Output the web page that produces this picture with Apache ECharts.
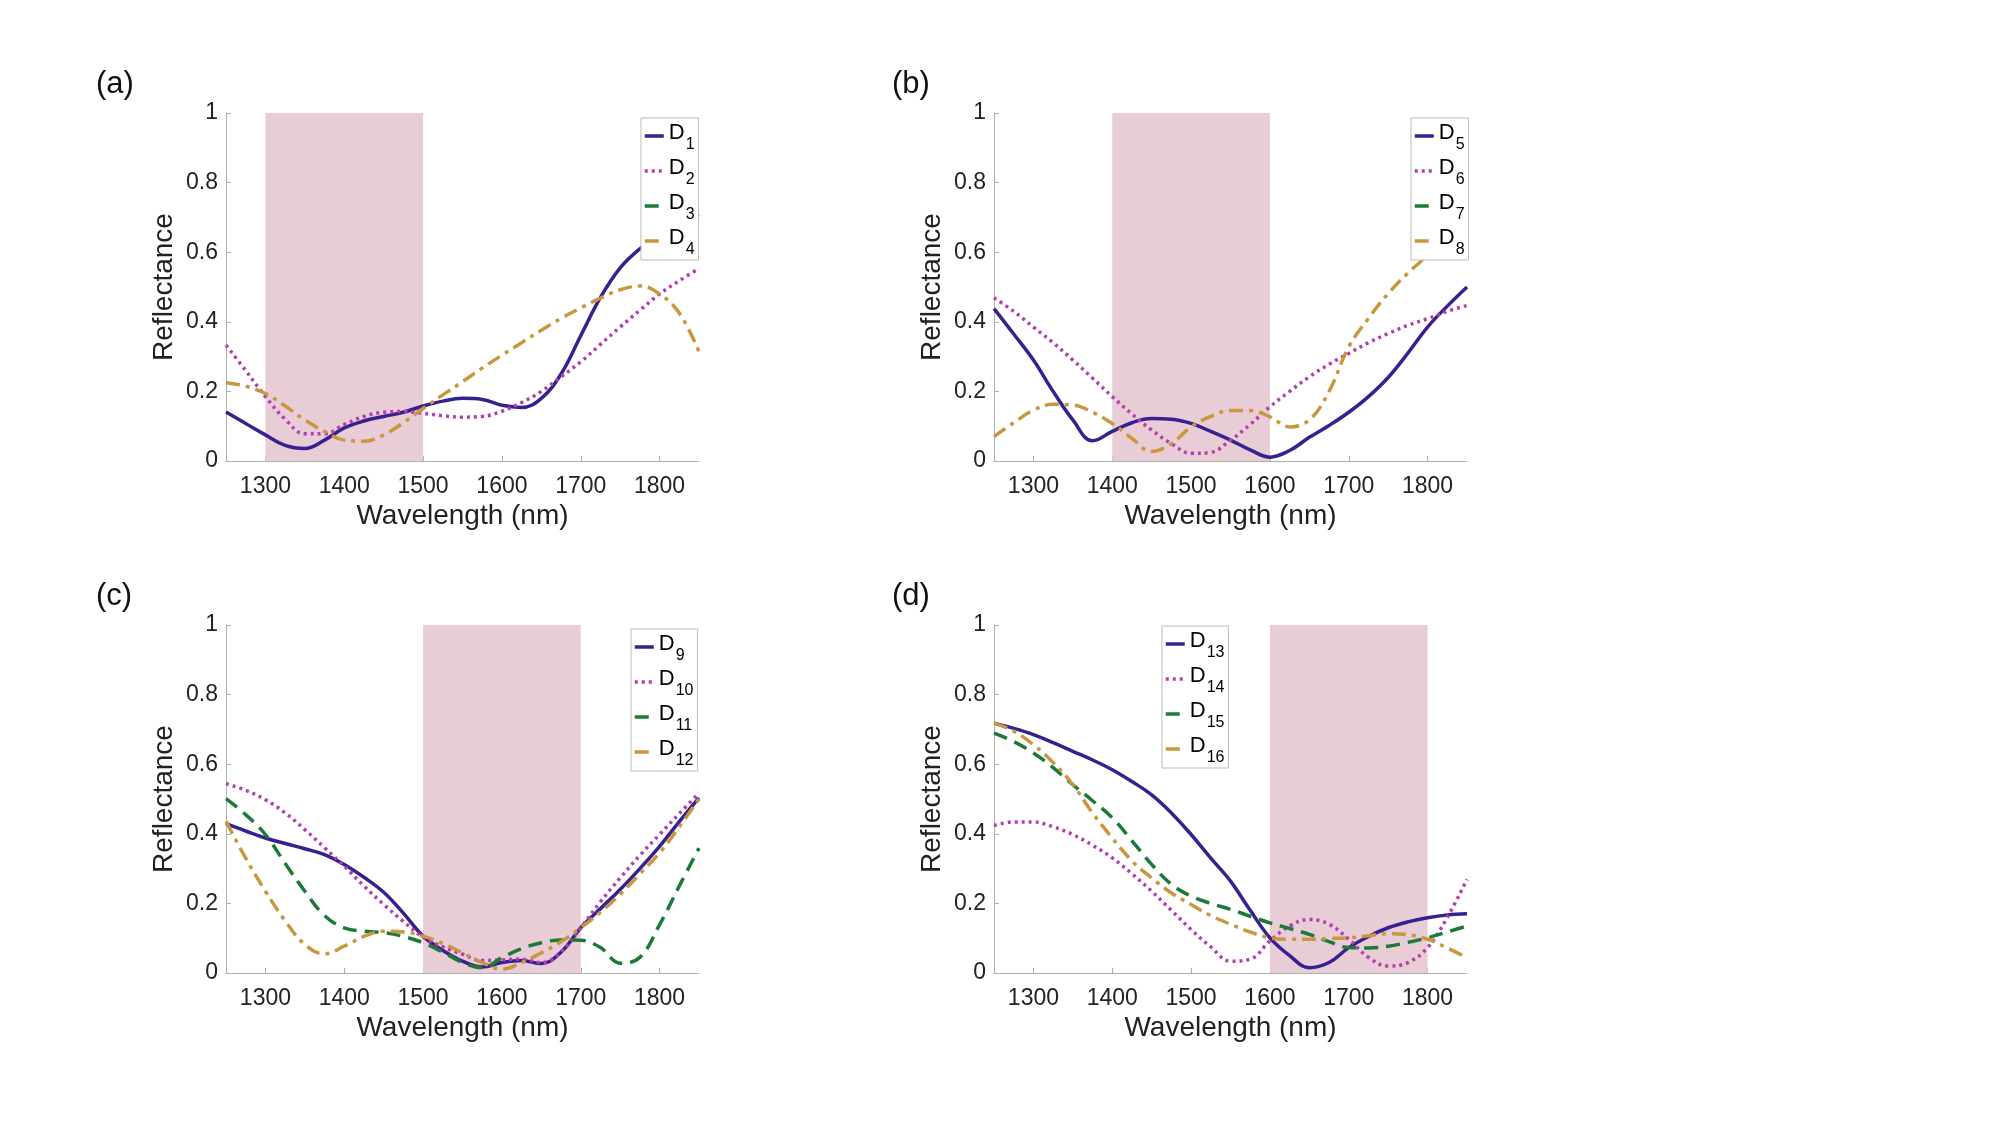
<!DOCTYPE html>
<html>
<head>
<meta charset="utf-8">
<script src="https://cdn.jsdelivr.net/npm/echarts@6/dist/echarts.min.js"></script>
<style>
    html, body { margin: 0; padding: 0; background: #fff; }
    #chart { width: 2000px; height: 1125px; }
</style>
</head>
<body>
<div id="chart"></div>
<script>
// wavelength grid (nm), every 25 nm
const wavelength = [1250, 1275, 1300, 1325, 1350, 1375, 1400, 1425, 1450, 1475, 1500, 1525, 1550,
    1575, 1600, 1625, 1650, 1675, 1700, 1725, 1750, 1775, 1800, 1825, 1850];
const xTicks = [1300, 1400, 1500, 1600, 1700, 1800];

// (a)  -- D3 is listed in the legend but no curve is visible for it
const d1 = [0.141, 0.108, 0.075, 0.045, 0.036, 0.060, 0.095, 0.115, 0.128, 0.140, 0.158, 0.172, 0.180,
    0.177, 0.160, 0.154, 0.180, 0.250, 0.360, 0.470, 0.555, 0.610, 0.650, 0.685, 0.708];
const d2 = [0.333, 0.260, 0.185, 0.120, 0.078, 0.078, 0.105, 0.128, 0.140, 0.142, 0.137, 0.130, 0.126,
    0.128, 0.143, 0.168, 0.200, 0.242, 0.285, 0.335, 0.385, 0.433, 0.480, 0.518, 0.553];
const d3 = [];
const d4 = [0.225, 0.215, 0.194, 0.158, 0.118, 0.085, 0.060, 0.057, 0.075, 0.110, 0.151, 0.190, 0.228,
    0.267, 0.304, 0.340, 0.376, 0.410, 0.440, 0.468, 0.492, 0.503, 0.480, 0.425, 0.314];
// (b)  -- same for D7
const d5 = [0.438, 0.365, 0.290, 0.200, 0.118, 0.058, 0.085, 0.110, 0.122, 0.120, 0.108, 0.085, 0.060,
    0.032, 0.011, 0.030, 0.068, 0.102, 0.140, 0.185, 0.240, 0.310, 0.385, 0.445, 0.500];
const d6 = [0.469, 0.430, 0.385, 0.340, 0.290, 0.238, 0.185, 0.135, 0.089, 0.050, 0.022, 0.025, 0.060,
    0.105, 0.156, 0.200, 0.242, 0.278, 0.309, 0.340, 0.366, 0.390, 0.409, 0.430, 0.447];
const d7 = [];
const d8 = [0.070, 0.110, 0.146, 0.163, 0.161, 0.140, 0.108, 0.065, 0.027, 0.050, 0.098, 0.128, 0.145,
    0.145, 0.127, 0.098, 0.118, 0.200, 0.328, 0.410, 0.481, 0.540, 0.590, 0.640, 0.686];
// (c)
const d9 = [0.429, 0.408, 0.388, 0.372, 0.357, 0.340, 0.312, 0.275, 0.232, 0.172, 0.106, 0.065, 0.034,
    0.017, 0.030, 0.036, 0.027, 0.060, 0.130, 0.185, 0.240, 0.300, 0.364, 0.435, 0.503];
const d10 = [0.544, 0.525, 0.498, 0.460, 0.412, 0.360, 0.307, 0.250, 0.197, 0.148, 0.103, 0.075, 0.054,
    0.036, 0.038, 0.040, 0.030, 0.060, 0.130, 0.205, 0.273, 0.338, 0.398, 0.458, 0.517];
const d11 = [0.501, 0.455, 0.398, 0.315, 0.235, 0.165, 0.130, 0.120, 0.116, 0.105, 0.087, 0.060, 0.030,
    0.015, 0.044, 0.070, 0.087, 0.095, 0.094, 0.073, 0.028, 0.045, 0.139, 0.250, 0.359];
const d12 = [0.436, 0.330, 0.235, 0.150, 0.082, 0.055, 0.077, 0.105, 0.120, 0.118, 0.106, 0.085, 0.058,
    0.030, 0.011, 0.030, 0.058, 0.090, 0.130, 0.175, 0.226, 0.285, 0.345, 0.420, 0.500];
// (d)
const d13 = [0.718, 0.703, 0.685, 0.662, 0.637, 0.612, 0.584, 0.550, 0.512, 0.460, 0.398, 0.330, 0.264,
    0.180, 0.101, 0.050, 0.015, 0.030, 0.073, 0.105, 0.130, 0.147, 0.159, 0.167, 0.170];
const d14 = [0.424, 0.434, 0.434, 0.420, 0.398, 0.367, 0.331, 0.285, 0.235, 0.180, 0.125, 0.075, 0.034,
    0.040, 0.092, 0.135, 0.154, 0.140, 0.097, 0.045, 0.020, 0.030, 0.073, 0.160, 0.269];
const d15 = [0.689, 0.665, 0.632, 0.590, 0.541, 0.495, 0.446, 0.380, 0.312, 0.255, 0.221, 0.200, 0.183,
    0.163, 0.144, 0.128, 0.111, 0.090, 0.073, 0.072, 0.077, 0.088, 0.101, 0.118, 0.135];
const d16 = [0.718, 0.695, 0.656, 0.605, 0.541, 0.460, 0.388, 0.322, 0.273, 0.230, 0.197, 0.165, 0.140,
    0.118, 0.101, 0.097, 0.097, 0.099, 0.101, 0.107, 0.113, 0.110, 0.097, 0.072, 0.044];

// shaded wavelength windows
const bandA = [1300, 1500];
const bandB = [1400, 1600];
const bandC = [1500, 1700];
const bandD = [1600, 1800];

const panels = [
    { label: '(a)', names: ['D1', 'D2', 'D3', 'D4'], values: [d1, d2, d3, d4], band: bandA },
    { label: '(b)', names: ['D5', 'D6', 'D7', 'D8'], values: [d5, d6, d7, d8], band: bandB },
    { label: '(c)', names: ['D9', 'D10', 'D11', 'D12'], values: [d9, d10, d11, d12], band: bandC },
    { label: '(d)', names: ['D13', 'D14', 'D15', 'D16'], values: [d13, d14, d15, d16], band: bandD }
];

// layout (px)
const layout = [
    { left: 226, top: 113, legendLeft: 641, legendTop: 118, labelLeft: 91, labelTop: 64 },
    { left: 994, top: 113, legendLeft: 1411, legendTop: 118, labelLeft: 887, labelTop: 64 },
    { left: 226, top: 625, legendLeft: 631, legendTop: 629, labelLeft: 91, labelTop: 576 },
    { left: 994, top: 625, legendLeft: 1162, legendTop: 626, labelLeft: 887, labelTop: 576 }
];
const gridW = 473, gridH = 348;

const lineStyles = [
    { color: '#37208f', type: 'solid' },
    { color: '#b23fac', type: [3, 4] },
    { color: '#1b7a36', type: [14, 8] },
    { color: '#c8973e', type: [14, 6, 4, 6] }
];
const bandColor = '#e8ccd6';
const fontFamily = 'Liberation Sans, Arial, sans-serif';

var myChart = echarts.init(document.getElementById('chart'));

var grids = [], xAxes = [], yAxes = [], series = [], legends = [], titles = [];

panels.forEach(function (p, i) {
    var L = layout[i];
    grids.push({ left: L.left, top: L.top, width: gridW, height: gridH });
    xAxes.push({
        type: 'value',
        gridIndex: i,
        min: 1250,
        max: 1850,
        name: 'Wavelength (nm)',
        nameLocation: 'middle',
        nameGap: 41,
        nameTextStyle: { fontSize: 28, color: '#222', fontFamily: fontFamily },
        axisLine: { lineStyle: { color: '#b0b0b0', width: 1 } },
        axisTick: { inside: true, length: 5, customValues: xTicks, lineStyle: { color: '#b0b0b0' } },
        axisLabel: {
            customValues: xTicks, fontSize: 23, color: '#222', margin: 14, fontFamily: fontFamily,
            formatter: function (v) { return String(v); }
        },
        splitLine: { show: false }
    });
    yAxes.push({
        type: 'value',
        gridIndex: i,
        min: 0,
        max: 1,
        interval: 0.2,
        name: 'Reflectance',
        nameLocation: 'middle',
        nameRotate: 90,
        nameGap: 48,
        nameTextStyle: { fontSize: 28, color: '#222', fontFamily: fontFamily },
        axisLine: { show: true, lineStyle: { color: '#b0b0b0', width: 1 } },
        axisTick: { show: true, inside: true, length: 5, lineStyle: { color: '#b0b0b0' } },
        axisLabel: { fontSize: 23, color: '#222', margin: 8, fontFamily: fontFamily },
        splitLine: { show: false }
    });
    // shaded band behind the curves
    series.push({
        type: 'line',
        name: 'band' + i,
        xAxisIndex: i,
        yAxisIndex: i,
        data: [],
        z: 1,
        silent: true,
        markArea: {
            silent: true,
            itemStyle: { color: bandColor, opacity: 1 },
            data: [[{ xAxis: p.band[0] }, { xAxis: p.band[1] }]]
        }
    });
    p.names.forEach(function (name, k) {
        series.push({
            type: 'line',
            name: name,
            xAxisIndex: i,
            yAxisIndex: i,
            smooth: 0.4,
            symbol: 'none',
            z: 3,
            color: lineStyles[k].color,
            lineStyle: { width: 3.5, color: lineStyles[k].color, type: lineStyles[k].type },
            data: p.values[k].map(function (v, j) { return [wavelength[j], v]; })
        });
    });
    legends.push({
        data: p.names,
        orient: 'vertical',
        left: L.legendLeft,
        top: L.legendTop,
        itemWidth: 19,
        itemHeight: 12,
        itemGap: 4,
        padding: [4, 4, 2, 2],
        borderColor: '#bbbbbb',
        borderWidth: 1,
        backgroundColor: '#fff',
        selectedMode: false,
        itemStyle: { opacity: 0 },
        lineStyle: { width: 3.5 },
        formatter: function (name) {
            return '{d|D}{s|' + name.slice(1) + '}';
        },
        textStyle: {
            color: '#000',
            fontFamily: fontFamily,
            rich: {
                d: { fontSize: 22, verticalAlign: 'top', fontFamily: fontFamily, lineHeight: 28 },
                s: { fontSize: 16, verticalAlign: 'top', padding: [15, 0, 0, 1], fontFamily: fontFamily, lineHeight: 15 }
            }
        }
    });
    titles.push({
        text: p.label,
        left: L.labelLeft,
        top: L.labelTop,
        textStyle: { fontSize: 31, fontWeight: 'normal', color: '#111', fontFamily: fontFamily }
    });
});

const option = {
    backgroundColor: '#fff',
    animation: false,
    title: titles,
    legend: legends,
    grid: grids,
    xAxis: xAxes,
    yAxis: yAxes,
    series: series
};
myChart.setOption(option);
</script>
</body>
</html>
